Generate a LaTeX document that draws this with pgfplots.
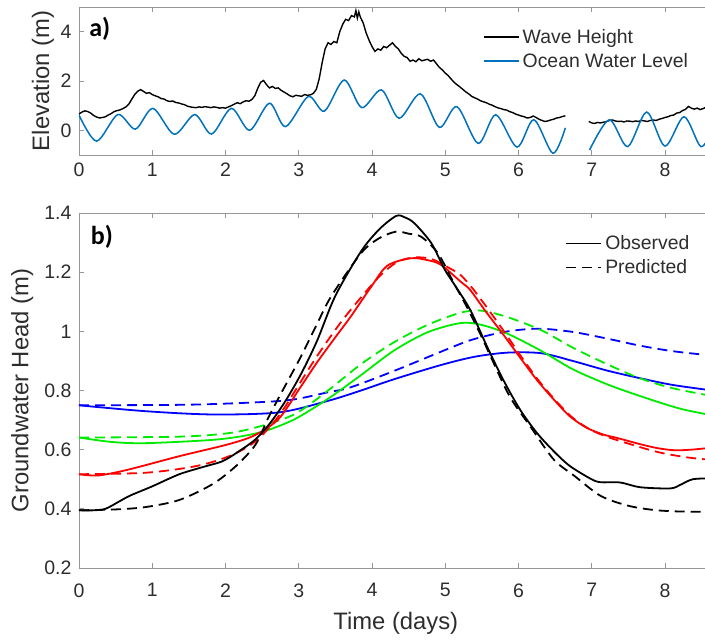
\documentclass[border=0pt]{standalone}
\usepackage{pgfplots}
\pgfplotsset{compat=1.18}
\usepackage{fontspec}
\setmainfont{Liberation Sans}
\newfontfamily\panelfont{Carlito}
\definecolor{tide}{rgb}{0,0.447,0.741}
\definecolor{axgray}{RGB}{150,150,150}
\definecolor{txt}{RGB}{45,45,45}
\definecolor{gblue}{RGB}{0,0,255}
\definecolor{ggreen}{RGB}{0,235,0}
\definecolor{gred}{RGB}{255,0,0}

\pgfplotsset{
  base/.style={
    scale only axis, width=633.6pt, xmin=0, xmax=8.65,
    axis line style={axgray, line width=0.9pt},
    every tick/.style={axgray, line width=0.9pt},
    major tick length=5pt, tick align=inside,
    xtick={0,1,2,3,4,5,6,7,8},
    /pgf/number format/assume math mode=true,
    ticklabel style={font=\fontsize{19.5}{20}\selectfont, text=txt},
    yticklabel style={xshift=-4pt},
    label style={font=\fontsize{23.8}{24}\selectfont, text=txt},
    legend cell align=left,
    legend style={draw=none, fill=none, inner sep=0pt,
      font=\fontsize{19.4}{20}\selectfont, text=txt,
      nodes={inner sep=3pt}, row sep=2.5pt},
    legend image code/.code={\draw[##1] (0pt,0pt) -- (35pt,0pt);},
  },
  obs/.style={line width=1.8pt, smooth},
  pred/.style={line width=1.8pt, smooth, dash pattern=on 10pt off 6pt},
}

\begin{document}
\begin{tikzpicture}
\path[use as bounding box] (0pt,0pt) rectangle (705pt,640pt);

% ---------------- panel a ----------------
\begin{axis}[base, at={(79pt,485pt)}, anchor=south west, height=148pt,
  ymin=-1, ymax=5, ytick={0,2,4},
  xticklabel style={yshift=-4.5pt},
  ylabel={Elevation (m)},
  ylabel style={at={(axis description cs:-0.057,0.5)}, anchor=center},
  legend style={at={(axis description cs:0.6376,0.872)}, anchor=north west}]

\addlegendimage{black, line width=1.5pt}
\addlegendentry{Wave Height}
\addlegendimage{tide, line width=1.5pt}
\addlegendentry{Ocean Water Level}

% wave height
\addplot[black, line width=1.4pt, forget plot] coordinates {
(0.00,0.66) (0.04,0.74) (0.08,0.79) (0.12,0.76) (0.16,0.70) (0.20,0.60)
(0.24,0.54) (0.28,0.50) (0.32,0.52) (0.36,0.55) (0.40,0.62) (0.44,0.68)
(0.48,0.76) (0.52,0.80) (0.56,0.83) (0.60,0.88) (0.64,0.95) (0.68,1.06)
(0.72,1.26) (0.76,1.45) (0.80,1.58) (0.84,1.65) (0.88,1.58) (0.92,1.50)
(0.96,1.53) (1.00,1.45) (1.04,1.40) (1.08,1.36) (1.12,1.29) (1.16,1.27)
(1.20,1.20) (1.24,1.17) (1.28,1.19) (1.32,1.13) (1.36,1.11) (1.40,1.07)
(1.44,1.04) (1.48,0.98) (1.52,0.95) (1.56,0.93) (1.60,0.92) (1.64,0.95)
(1.68,0.93) (1.72,0.96) (1.76,0.94) (1.80,0.92) (1.84,0.95) (1.88,0.93)
(1.92,0.90) (1.96,0.92) (2.00,0.90) (2.04,0.95) (2.08,1.00) (2.12,1.06)
(2.16,1.12) (2.20,1.08) (2.24,1.15) (2.28,1.20) (2.32,1.18) (2.36,1.25)
(2.40,1.40) (2.44,1.70) (2.48,1.95) (2.52,2.02) (2.56,1.85) (2.60,1.72)
(2.64,1.78) (2.68,1.70) (2.72,1.72) (2.76,1.62) (2.80,1.55) (2.84,1.48)
(2.88,1.40) (2.92,1.36) (2.96,1.42) (3.00,1.40) (3.04,1.38) (3.08,1.45)
(3.12,1.42) (3.16,1.44) (3.20,1.50) (3.24,1.66) (3.28,2.10) (3.32,2.75)
(3.36,3.30) (3.40,3.55) (3.44,3.48) (3.48,3.60) (3.52,3.55) (3.56,4.00)
(3.60,4.30) (3.64,4.50) (3.68,4.45) (3.72,4.65) (3.76,4.60) (3.78,4.85)
(3.80,4.55) (3.82,4.80) (3.84,4.60) (3.88,4.35) (3.92,3.95) (3.96,3.65)
(4.00,3.40) (4.04,3.20) (4.08,3.30) (4.12,3.25) (4.16,3.40) (4.20,3.35)
(4.24,3.45) (4.28,3.55) (4.32,3.40) (4.36,3.30) (4.40,3.12) (4.44,3.00)
(4.48,2.95) (4.52,2.80) (4.56,2.85) (4.60,2.78) (4.64,2.90) (4.68,2.82)
(4.72,2.85) (4.76,2.88) (4.80,2.80) (4.84,2.85) (4.88,2.70) (4.92,2.55)
(4.96,2.45) (5.00,2.32) (5.04,2.22) (5.08,2.08) (5.12,1.95) (5.16,1.85)
(5.20,1.76) (5.24,1.66) (5.28,1.56) (5.32,1.48) (5.36,1.38) (5.40,1.32)
(5.44,1.27) (5.48,1.20) (5.52,1.16) (5.56,1.12) (5.60,1.06) (5.64,1.02)
(5.68,0.96) (5.72,0.91) (5.76,0.88) (5.80,0.84) (5.84,0.82) (5.88,0.76)
(5.92,0.72) (5.96,0.66) (6.00,0.62) (6.04,0.58) (6.08,0.55) (6.12,0.50)
(6.16,0.52) (6.20,0.58) (6.24,0.52) (6.28,0.45) (6.32,0.40) (6.36,0.36)
(6.40,0.38) (6.44,0.42) (6.48,0.45) (6.52,0.50) (6.56,0.52) (6.60,0.56)
(6.64,0.59)
};
\addplot[black, line width=1.4pt, forget plot] coordinates {
(6.96,0.36) (7.00,0.30) (7.04,0.28) (7.08,0.32) (7.12,0.30) (7.16,0.33)
(7.20,0.35) (7.24,0.40) (7.28,0.42) (7.32,0.38) (7.36,0.36) (7.40,0.37)
(7.44,0.34) (7.48,0.38) (7.52,0.37) (7.56,0.35) (7.60,0.38) (7.64,0.36)
(7.68,0.40) (7.72,0.38) (7.76,0.36) (7.80,0.40) (7.84,0.42) (7.88,0.40)
(7.92,0.45) (7.96,0.48) (8.00,0.52) (8.04,0.55) (8.08,0.60) (8.12,0.62)
(8.16,0.70) (8.20,0.72) (8.24,0.80) (8.28,0.85) (8.32,0.97) (8.36,0.90)
(8.40,0.86) (8.44,0.90) (8.48,0.84) (8.52,0.88) (8.56,0.94) (8.60,0.96)
(8.65,0.98)
};

% ocean water level
\addplot[tide, line width=1.5pt, smooth, forget plot] coordinates {
(0.00,0.62) (0.24,-0.44) (0.53,0.64) (0.77,0.05) (1.01,0.89) (1.30,-0.16)
(1.58,0.64) (1.81,-0.15) (2.08,0.89) (2.33,0.00) (2.60,1.10) (2.82,0.15)
(3.13,1.37) (3.35,0.78) (3.62,2.04) (3.86,0.92) (4.13,1.64) (4.37,0.49)
(4.66,1.48) (4.92,0.12) (5.16,0.96) (5.45,-0.53) (5.69,0.63) (5.98,-0.68)
(6.21,0.43) (6.47,-0.93) (6.64,0.10)
};
\addplot[tide, line width=1.5pt, smooth, forget plot] coordinates {
(6.97,-0.80) (7.24,0.43) (7.49,-0.66) (7.75,0.74) (8.00,-0.64)
(8.26,0.55) (8.49,-0.66) (8.65,0.05)
};

\node[anchor=north west, inner sep=0pt, text=black,
  font=\panelfont\bfseries\fontsize{26}{26}\selectfont]
  at (axis description cs:0.016,0.935) {a)};
\end{axis}

% ---------------- panel b ----------------
\begin{axis}[base, at={(79pt,72pt)}, anchor=south west, height=355pt,
  ymin=0.2, ymax=1.4, ytick={0.2,0.4,0.6,0.8,1,1.2,1.4},
  xticklabel style={yshift=-12pt},
  xlabel={Time (days)},
  xlabel style={at={(axis description cs:0.5,-0.155)}, anchor=center},
  ylabel={Groundwater Head (m)},
  ylabel style={at={(axis description cs:-0.0897,0.5)}, anchor=center},
  legend style={at={(axis description cs:0.7675,0.945)}, anchor=north west}]

\addlegendimage{black, line width=1.8pt}
\addlegendentry{Observed}
\addlegendimage{black, line width=1.8pt, dash pattern=on 10pt off 6pt}
\addlegendentry{Predicted}

% blue (well 4)
\addplot[gblue, obs, forget plot] coordinates {
(0.00,0.750) (0.91,0.730) (1.82,0.719) (2.73,0.726) (3.40,0.765)
(3.85,0.800) (4.30,0.838) (4.94,0.886) (5.40,0.914) (5.85,0.928)
(6.31,0.926) (6.74,0.900) (7.20,0.868) (7.65,0.842) (8.10,0.819)
(8.65,0.800)
};
\addplot[gblue, pred, forget plot] coordinates {
(0.00,0.750) (1.50,0.752) (2.50,0.761) (2.94,0.770) (3.40,0.794)
(3.70,0.810) (4.30,0.866) (5.00,0.937) (5.37,0.972) (5.83,0.999)
(6.28,1.009) (6.74,0.998) (7.20,0.976) (7.65,0.952) (8.10,0.933)
(8.65,0.918)
};

% green (well 3)
\addplot[ggreen, obs, forget plot] coordinates {
(0.00,0.641) (0.45,0.626) (0.91,0.622) (1.82,0.633) (2.28,0.648)
(2.60,0.668) (2.96,0.705) (3.40,0.772) (3.85,0.852) (4.30,0.935)
(4.76,0.997) (5.21,1.028) (5.49,1.022) (5.85,0.992) (6.31,0.934)
(6.74,0.872) (7.20,0.822) (7.65,0.782) (8.20,0.739) (8.65,0.716)
};
\addplot[ggreen, pred, forget plot] coordinates {
(0.00,0.641) (1.37,0.644) (2.05,0.656) (2.50,0.681) (2.96,0.722)
(3.40,0.800) (3.85,0.889) (4.30,0.963) (4.76,1.022) (5.21,1.063)
(5.49,1.070) (5.85,1.048) (6.31,1.004) (6.74,0.945) (7.20,0.890)
(7.65,0.842) (8.10,0.808) (8.65,0.781)
};

% red (well 2)
\addplot[gred, obs, forget plot] coordinates {
(0.00,0.517) (0.27,0.513) (0.68,0.533) (1.37,0.578) (2.05,0.619)
(2.41,0.650) (2.73,0.705) (3.02,0.810) (3.25,0.895) (3.47,0.970)
(3.71,1.050) (3.99,1.151) (4.21,1.222) (4.53,1.247) (4.75,1.241)
(4.94,1.225) (5.21,1.168) (5.34,1.140) (5.55,1.068) (5.79,0.990)
(6.02,0.912) (6.25,0.836) (6.48,0.770) (6.70,0.713) (6.93,0.674)
(7.16,0.651) (7.34,0.640) (7.67,0.618) (7.90,0.605) (8.13,0.598)
(8.36,0.600) (8.65,0.607)
};
\addplot[gred, pred, forget plot] coordinates {
(0.00,0.517) (0.91,0.522) (1.59,0.544) (2.05,0.578) (2.41,0.628)
(2.73,0.715) (2.99,0.815) (3.26,0.920) (3.62,1.045) (4.08,1.180)
(4.35,1.235) (4.59,1.250) (4.82,1.244) (5.04,1.216) (5.21,1.190)
(5.38,1.143) (5.60,1.070) (5.83,0.990) (6.05,0.910) (6.28,0.832)
(6.50,0.768) (6.72,0.712) (6.95,0.672) (7.16,0.648) (7.44,0.625)
(7.90,0.592) (8.30,0.574) (8.65,0.565)
};

% black (well 1)
\addplot[black, obs, forget plot] coordinates {
(0.00,0.395) (0.20,0.395) (0.36,0.400) (0.55,0.425) (0.70,0.445)
(1.00,0.476) (1.37,0.517) (1.73,0.544) (1.96,0.561) (2.18,0.594)
(2.41,0.635) (2.61,0.690) (2.82,0.765) (3.04,0.860) (3.25,0.968)
(3.50,1.120) (3.85,1.270) (4.10,1.345) (4.33,1.390) (4.45,1.385)
(4.58,1.365) (4.81,1.298) (4.99,1.210) (5.12,1.160) (5.34,1.073)
(5.57,0.949) (5.79,0.837) (6.02,0.736) (6.25,0.657) (6.48,0.595)
(6.70,0.545) (6.99,0.501) (7.12,0.490) (7.39,0.489) (7.66,0.473)
(8.07,0.469) (8.20,0.480) (8.38,0.500) (8.65,0.503)
};
\addplot[black, pred, forget plot] coordinates {
(0.00,0.395) (0.50,0.398) (0.91,0.406) (1.37,0.430) (1.82,0.483)
(2.14,0.544) (2.41,0.617) (2.59,0.711) (2.78,0.800) (3.02,0.910)
(3.25,1.025) (3.44,1.117) (3.85,1.264) (4.10,1.315) (4.33,1.337)
(4.50,1.330) (4.67,1.320) (4.90,1.264) (5.12,1.162) (5.30,1.080)
(5.49,0.985) (5.62,0.915) (5.88,0.780) (6.16,0.679) (6.48,0.567)
(6.76,0.512) (7.12,0.444) (7.49,0.411) (7.85,0.396) (8.20,0.391)
(8.65,0.390)
};

\node[anchor=north west, inner sep=0pt, text=black,
  font=\panelfont\bfseries\fontsize{26}{26}\selectfont]
  at (axis description cs:0.0185,0.965) {b)};
\end{axis}
\end{tikzpicture}
\end{document}
